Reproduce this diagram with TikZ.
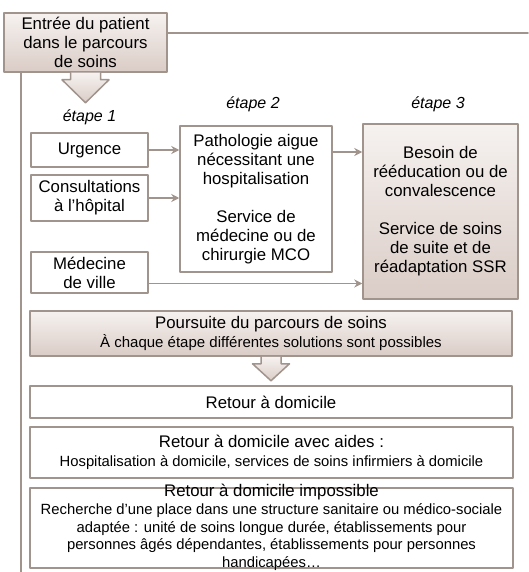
\documentclass[tikz,border=0pt]{standalone}
\usepackage{fontspec}
\setmainfont{Liberation Sans}
\usetikzlibrary{arrows.meta, calc, positioning}

\definecolor{edgegray}{RGB}{160,148,141}
\definecolor{shadetop}{RGB}{246,242,240}
\definecolor{shadebot}{RGB}{218,204,198}

\tikzset{
  plainbox/.style={draw=edgegray, line width=1.5pt, fill=white, align=center, inner sep=0pt},
  shadebox/.style={plainbox, top color=shadetop, bottom color=shadebot},
  steplabel/.style={font=\fontsize{16}{18}\itshape},
  link/.style={draw=edgegray, line width=1.5pt},
  bigarrow/.style={draw=edgegray, line width=1.5pt, top color=shadetop, bottom color=shadebot}
}

\newcommand{\smalltxt}{\fontsize{14.8}{17.8}\selectfont}
\newcommand{\bigtxt}{\fontsize{16.8}{19}\selectfont}

\begin{document}
\begin{tikzpicture}[line cap=round,line join=round,x=1pt,y=-1pt,>={Stealth[length=8pt,width=8pt]}, every node/.style={font=\bigtxt}]
\useasboundingbox (0,0) rectangle (528,572);

% Free ends of the frame lines
\coordinate (topend) at (528,33);
\coordinate (leftend) at (21,572);

% Entry box
\node [shadebox, minimum width=163pt, minimum height=59pt] (entree) at (85.5,42.5) {Entrée du patient\\dans le parcours\\de soins};
\draw [link] (entree.east |- topend) -- (topend);
\draw [link] (entree.south -| leftend) -- (leftend);
\path [bigarrow] ($(entree.south)+(-15,0)$) -- ++(0,7) -- ++(-8.5,0) -- ($(entree.south)+(0,30)$) -- ++(23.5,-23) -- ++(-8.5,0) -- ++(0,-7);

% Step labels
\node [steplabel] (etape1) at (89.5,117) {étape 1};
\node [steplabel] (etape2) at (253,104) {étape 2};
\node [steplabel] (etape3) at (438,104) {étape 3};

% Step 1
\node [plainbox, minimum width=117pt, minimum height=34pt] (urgence) at (89.5,150) {Urgence};
\node [plainbox, minimum width=117pt, minimum height=46pt] (consult) at (89.5,198) {Consultations\\à l’hôpital};
\node [plainbox, minimum width=117pt, minimum height=41pt] (ville) at (89.5,272.5) {Médecine\\de ville};

% Step 2 and 3
\node [plainbox, minimum width=152pt, minimum height=146pt] (patho) at (256,199) {Pathologie aigue\\nécessitant une\\hospitalisation\\[19pt]Service de\\médecine ou de\\chirurgie MCO};
\node [shadebox, minimum width=155pt, minimum height=175pt] (besoin) at (440.5,211.5) {Besoin de\\rééducation ou de\\convalescence\\[19pt]Service de soins\\de suite et de\\réadaptation SSR};

% Arrows
\draw [link,->] (urgence) -- (patho.west |- urgence);
\draw [link,->] (consult) -- (patho.west |- consult);
\draw [link,->] ($(patho.east)+(0,-47)$) -- ($(besoin.west)+(0,-59.5)$);
\draw [link,->] ($(ville.east)+(0,11)$) -- ($(besoin.west)+(0,72)$);

% Follow-up
\node [shadebox, minimum width=482pt, minimum height=45pt] (suite) at (271,333.5) {Poursuite du parcours de soins\\\fontsize{15}{18}\selectfont À chaque étape différentes solutions sont possibles};
\path [bigarrow] ($(suite.south)+(-10,0)$) -- ++(0,7) -- ++(-8.5,0) -- ($(suite.south)+(0,24)$) -- ++(18.5,-17) -- ++(-8.5,0) -- ++(0,-7);

% Outcomes
\node [plainbox, minimum width=482pt, minimum height=32pt] (retour) at (271,402) {Retour à domicile};
\node [plainbox, minimum width=483pt, minimum height=51pt] (aides) at (271.5,452.5) {Retour à domicile avec aides :\\\smalltxt Hospitalisation à domicile, services de soins infirmiers à domicile};
\node [plainbox, minimum width=483pt, minimum height=80pt] (impossible) at (271.5,528) {};
\node [align=center, inner sep=0pt, font=\smalltxt] (imptext) at (271.5,527.5) {{\bigtxt Retour à domicile impossible}\\Recherche d'une place dans une structure sanitaire ou médico-sociale\\adaptée : unité de soins longue durée, établissements pour\\personnes âgés dépendantes, établissements pour personnes\\handicapées…};
\end{tikzpicture}
\end{document}
